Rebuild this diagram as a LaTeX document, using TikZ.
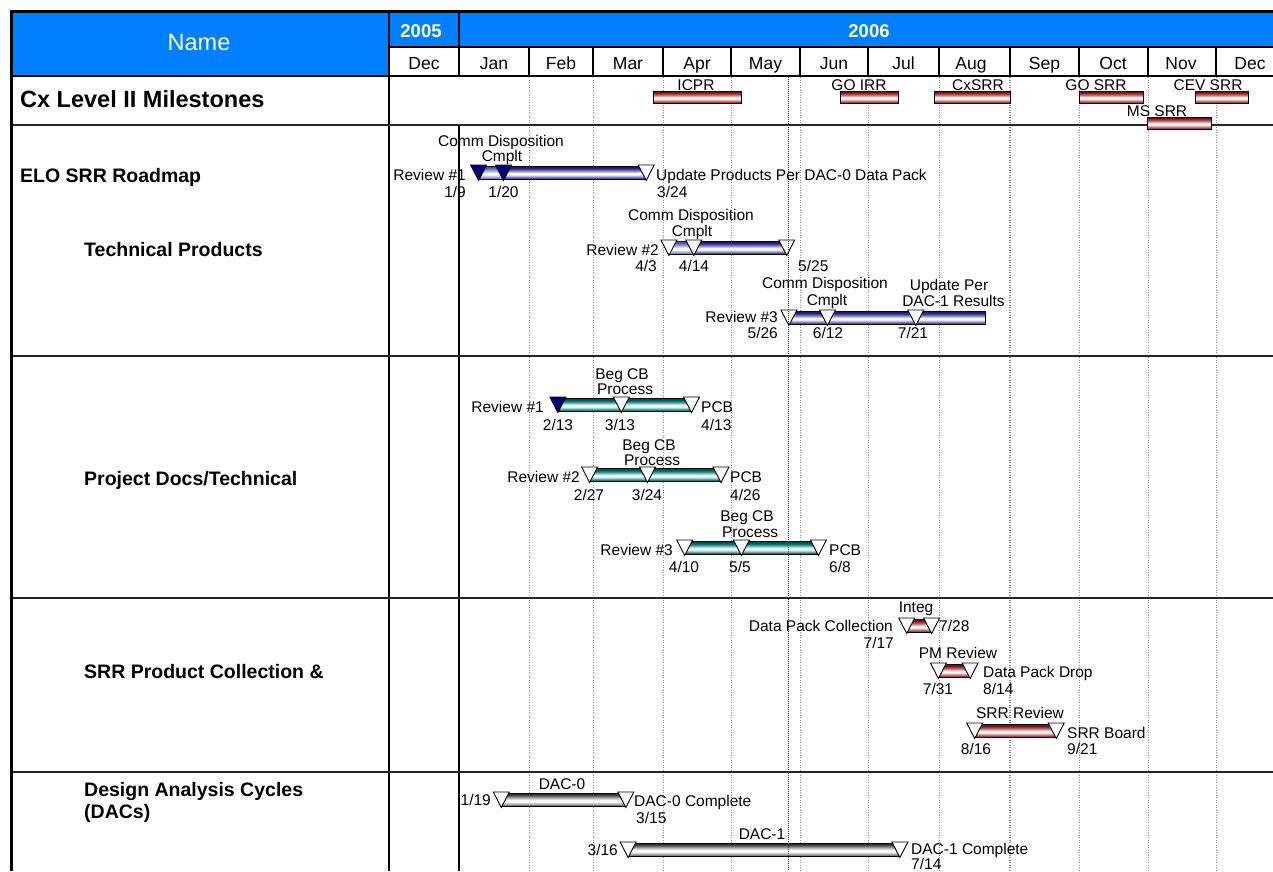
\documentclass[tikz,border=0pt]{standalone}
\usepackage{fontspec}
\setmainfont{Liberation Sans}
\usetikzlibrary{calc}

% palette
\definecolor{hdrblue}{RGB}{0,128,255}
\definecolor{navyfill}{RGB}{0,0,128}
\definecolor{todayblue}{RGB}{40,40,255}
\definecolor{bEdge}{RGB}{25,25,105}
\definecolor{bMid}{RGB}{80,80,170}
\definecolor{bLight}{RGB}{170,170,225}
\definecolor{lbEdge}{RGB}{80,80,165}
\definecolor{lbMid}{RGB}{135,135,205}
\definecolor{lbLight}{RGB}{195,195,238}
\definecolor{tEdge}{RGB}{0,80,80}
\definecolor{tMid}{RGB}{20,130,125}
\definecolor{tLight}{RGB}{135,205,198}
\definecolor{rEdge}{RGB}{105,20,20}
\definecolor{rMid}{RGB}{165,65,65}
\definecolor{rLight}{RGB}{222,150,150}
\definecolor{gEdge}{RGB}{50,50,50}
\definecolor{gMid}{RGB}{128,128,128}
\definecolor{gLight}{RGB}{200,200,200}

% striped "3D" bar shading: dark edges, white band near the middle
\newcommand\barshading[4]{%
  \pgfdeclareverticalshading{#1}{100bp}{color(0bp)=(#2); color(25bp)=(#2);
    color(29bp)=(#3); color(36bp)=(#4); color(43bp)=(white); color(48bp)=(white);
    color(55bp)=(#4); color(63bp)=(#3); color(71bp)=(#2); color(100bp)=(#2)}}
\barshading{bluebar}{bEdge}{bMid}{bLight}
\barshading{lightbluebar}{lbEdge}{lbMid}{lbLight}
\barshading{tealbar}{tEdge}{tMid}{tLight}
\barshading{redbar}{rEdge}{rMid}{rLight}
\barshading{graybar}{gEdge}{gMid}{gLight}

\tikzset{
  lbl/.style={inner sep=0pt, font=\fontsize{15.5}{17}\selectfont},
  namelbl/.style={inner sep=0pt, anchor=base west, font=\fontsize{19.5}{21}\bfseries\selectfont},
  monthlbl/.style={inner sep=0pt, anchor=base, font=\fontsize{17.5}{20}\selectfont},
  yearlbl/.style={inner sep=0pt, anchor=base, text=white, font=\fontsize{18.5}{20}\bfseries\selectfont},
  gridline/.style={draw=black!45, line width=0.9pt, dash pattern=on 1pt off 1.5pt},
  rowline/.style={draw=black!85, line width=1.6pt},
  frameline/.style={draw=black, line width=1.4pt},
  mstone/.style={draw=black, line width=0.9pt, line join=miter},
  taskbar/.style={draw=black, line width=0.8pt},
}

% milestone point, task bar between two milestone points, milestone marker
\newcommand\mspt[3]{\coordinate (#1) at (#2,#3);}
\newcommand\gbar[3]{\shade[taskbar, shading=#3] ($(#1)+(0,1.5)$) rectangle ($(#2)+(0,14)$);}
\newcommand\msmark[2]{\filldraw[mstone, fill=#2] ($(#1)+(-8,0)$) -- ($(#1)+(8,0)$) -- ($(#1)+(0,15.5)$) -- cycle;}

\begin{document}
\begin{tikzpicture}[x=1pt, y=-1pt]
\useasboundingbox (0,0) rectangle (1273,871);
\fill[white] (0,0) rectangle (1273,871);

% ---------- header ----------
\fill[hdrblue] (11.5,11.5) rectangle (389,76);
\fill[hdrblue] (389,11.5) rectangle (1273,47);

% ---------- grid ----------
\foreach \gx in {529,593,663,731,800,868,939,1079,1148,1216}
  \draw[gridline] (\gx,77) -- (\gx,871);
\draw[gridline, line width=1.5pt] (1010,77) -- (1010,871);

% month separators and frame
\foreach \gx in {529,593,663,731,800,868,939,1079,1148,1216}
  \draw[frameline, line width=1.2pt] (\gx,47) -- (\gx,76);
\draw[frameline, line width=2.4pt] (1010,47) -- (1010,76);
\draw[frameline, line width=1.2pt] (389,47) -- (1273,47);
\draw[frameline] (459,11.5) -- (459,76);
\draw[frameline] (459,125) -- (459,871);
\draw[frameline] (389,11.5) -- (389,871);
\draw[frameline, line width=1.6pt] (11.5,76) -- (1273,76);
\foreach \ry in {125,356,598,772}
  \draw[rowline] (11.5,\ry) -- (1273,\ry);
\draw[draw=black, line width=2.5pt] (10,11.5) -- (1273,11.5);
\draw[draw=black, line width=3pt] (11.5,10) -- (11.5,871);

% header texts
\node[inner sep=0pt, anchor=base, text=white, font=\fontsize{23.5}{25}\selectfont] (hdr-name) at (199,50) {Name};
\node[yearlbl] (hdr-2005) at (421,37) {2005};
\node[yearlbl] (hdr-2006) at (869,37) {2006};
\node[monthlbl] (m-dec05) at (424,69) {Dec};
\node[monthlbl] (m-jan) at (494,69) {Jan};
\node[monthlbl] (m-feb) at (561,69) {Feb};
\node[monthlbl] (m-mar) at (628,69) {Mar};
\node[monthlbl] (m-apr) at (697,69) {Apr};
\node[monthlbl] (m-may) at (765.5,69) {May};
\node[monthlbl] (m-jun) at (834,69) {Jun};
\node[monthlbl] (m-jul) at (903.5,69) {Jul};
\node[monthlbl] (m-aug) at (971,69) {Aug};
\node[monthlbl] (m-sep) at (1044.5,69) {Sep};
\node[monthlbl] (m-oct) at (1113,69) {Oct};
\node[monthlbl] (m-nov) at (1181,69) {Nov};
\node[monthlbl] (m-dec06) at (1250,69) {Dec};

% ---------- row titles ----------
\node[inner sep=0pt, anchor=base west, font=\fontsize{23.5}{25}\bfseries\selectfont] (t-cx) at (20,107) {Cx Level II Milestones};
\node[namelbl] (t-elo) at (20,182) {ELO SRR Roadmap};
\node[namelbl] (t-tech) at (84,256) {Technical Products};
\node[namelbl] (t-docs) at (84,485) {Project Docs/Technical};
\node[namelbl] (t-srr) at (84,678) {SRR Product Collection \&};
\node[namelbl] (t-dac1) at (84,796) {Design Analysis Cycles};
\node[namelbl] (t-dac2) at (84,818) {(DACs)};

% ---------- Cx Level II milestones ----------
\shade[taskbar, shading=redbar] (653,91) rectangle (741,103);
\shade[taskbar, shading=redbar] (840,91) rectangle (898,103);
\shade[taskbar, shading=redbar] (934,91) rectangle (1010,103);
\shade[taskbar, shading=redbar] (1079,91) rectangle (1143,103);
\shade[taskbar, shading=redbar] (1195,91) rectangle (1248,103);
\shade[taskbar, shading=redbar] (1147,117) rectangle (1211,129);
\node[lbl, anchor=base] (cx-icpr) at (696,90) {ICPR};
\node[lbl, anchor=base] (cx-goirr) at (859,90) {GO IRR};
\node[lbl, anchor=base] (cx-cxsrr) at (978,90) {CxSRR};
\node[lbl, anchor=base] (cx-gosrr) at (1096,90) {GO SRR};
\node[lbl, anchor=base] (cx-cevsrr) at (1208,90) {CEV SRR};
\node[lbl, anchor=base] (cx-mssrr) at (1157,116) {MS SRR};

% ---------- milestone points ----------
% ELO SRR roadmap
\mspt{e1}{478.6}{165} \mspt{e2}{503.5}{165} \mspt{e3}{646.2}{165}
% technical products
\mspt{t1}{668.9}{240} \mspt{t2}{693.8}{240} \mspt{t3}{786.7}{240}
\mspt{u1}{788.9}{310} \mspt{u2}{827.4}{310} \mspt{u3}{915.8}{310} \mspt{uend}{985}{310}
% project docs
\mspt{p1}{557.9}{397} \mspt{p2}{621.3}{397} \mspt{p3}{691.5}{397}
\mspt{q1}{589.6}{467} \mspt{q2}{647.5}{467} \mspt{q3}{721.0}{467}
\mspt{r1}{684.7}{540} \mspt{r2}{741.4}{540} \mspt{r3}{818.4}{540}
% SRR product collection
\mspt{s1}{906.7}{618} \mspt{s2}{931.6}{618}
\mspt{s3}{938.4}{663} \mspt{s4}{970.1}{663}
\mspt{s5}{974.7}{723} \mspt{s6}{1056.2}{723}
% design analysis cycles
\mspt{d1}{501.3}{792} \mspt{d2}{625.8}{792}
\mspt{d3}{628.1}{842} \mspt{d4}{899.9}{842}

% task bars
\gbar{e1}{e2}{lightbluebar} \gbar{e2}{e3}{bluebar}
\gbar{t1}{t2}{lightbluebar} \gbar{t2}{t3}{bluebar}
\gbar{u1}{u2}{bluebar} \gbar{u2}{u3}{bluebar} \gbar{u3}{uend}{bluebar}
\gbar{p1}{p2}{tealbar} \gbar{p2}{p3}{tealbar}
\gbar{q1}{q2}{tealbar} \gbar{q2}{q3}{tealbar}
\gbar{r1}{r2}{tealbar} \gbar{r2}{r3}{tealbar}
\gbar{s1}{s2}{redbar} \gbar{s3}{s4}{redbar} \gbar{s5}{s6}{redbar}
\gbar{d1}{d2}{graybar} \gbar{d3}{d4}{graybar}

% milestone markers
\msmark{e1}{navyfill} \msmark{e2}{navyfill} \msmark{e3}{white}
\msmark{t1}{white} \msmark{t2}{white} \msmark{t3}{white}
\msmark{u1}{white} \msmark{u2}{white} \msmark{u3}{white}
\msmark{p1}{navyfill} \msmark{p2}{white} \msmark{p3}{white}
\msmark{q1}{white} \msmark{q2}{white} \msmark{q3}{white}
\msmark{r1}{white} \msmark{r2}{white} \msmark{r3}{white}
\msmark{s1}{white} \msmark{s2}{white}
\msmark{s3}{white} \msmark{s4}{white}
\msmark{s5}{white} \msmark{s6}{white}
\msmark{d1}{white} \msmark{d2}{white}
\msmark{d3}{white} \msmark{d4}{white}

% status date line
\draw[todayblue, line width=0.9pt, dash pattern=on 1pt off 1pt] (788.5,77) -- (788.5,871);

% ---------- milestone labels ----------
% ELO SRR roadmap
\node[lbl, anchor=base] (e2-top1) at (501,146) {Comm Disposition};
\node[lbl, anchor=base] (e2-top2) at (502,161.5) {Cmplt};
\node[lbl, anchor=base east] (e1-side) at (466,180) {Review \#1};
\node[lbl, anchor=base east] (e1-date) at (466,197) {1/9};
\node[lbl, anchor=base] (e2-date) at (503.5,197) {1/20};
\node[lbl, anchor=base west] (e3-side) at (656,180) {Update Products Per DAC-0 Data Pack};
\node[lbl, anchor=base west] (e3-date) at (657,197) {3/24};
% technical products, review 2
\node[lbl, anchor=base] (t2-top1) at (691,220) {Comm Disposition};
\node[lbl, anchor=base] (t2-top2) at (692,236.5) {Cmplt};
\node[lbl, anchor=base east] (t1-side) at (659,255) {Review \#2};
\node[lbl, anchor=base east] (t1-date) at (657,271) {4/3};
\node[lbl, anchor=base] (t2-date) at (694,271) {4/14};
\node[lbl, anchor=base west] (t3-date) at (798,271) {5/25};
% technical products, review 3
\node[lbl, anchor=base] (u2-top1) at (825,288) {Comm Disposition};
\node[lbl, anchor=base] (u2-top2) at (827,305) {Cmplt};
\node[lbl, anchor=base] (u3-top1) at (949,290) {Update Per};
\node[lbl, anchor=base] (u3-top2) at (953.5,306.5) {DAC-1 Results};
\node[lbl, anchor=base east] (u1-side) at (778,322) {Review \#3};
\node[lbl, anchor=base east] (u1-date) at (778,338) {5/26};
\node[lbl, anchor=base] (u2-date) at (828,338) {6/12};
\node[lbl, anchor=base] (u3-date) at (913,338) {7/21};
% project docs, review 1
\node[lbl, anchor=base] (p2-top1) at (622,379) {Beg CB};
\node[lbl, anchor=base] (p2-top2) at (625,394) {Process};
\node[lbl, anchor=base east] (p1-side) at (544,412.5) {Review \#1};
\node[lbl, anchor=base west] (p3-side) at (701,412.5) {PCB};
\node[lbl, anchor=base] (p1-date) at (558,430) {2/13};
\node[lbl, anchor=base] (p2-date) at (620,430) {3/13};
\node[lbl, anchor=base west] (p3-date) at (701,430) {4/13};
% project docs, review 2
\node[lbl, anchor=base] (q2-top1) at (649,450) {Beg CB};
\node[lbl, anchor=base] (q2-top2) at (652,465) {Process};
\node[lbl, anchor=base east] (q1-side) at (580,482) {Review \#2};
\node[lbl, anchor=base west] (q3-side) at (730,482) {PCB};
\node[lbl, anchor=base] (q1-date) at (589,500) {2/27};
\node[lbl, anchor=base] (q2-date) at (647,500) {3/24};
\node[lbl, anchor=base west] (q3-date) at (730,500) {4/26};
% project docs, review 3
\node[lbl, anchor=base] (r2-top1) at (747,521) {Beg CB};
\node[lbl, anchor=base] (r2-top2) at (750,537) {Process};
\node[lbl, anchor=base east] (r1-side) at (673,555) {Review \#3};
\node[lbl, anchor=base west] (r3-side) at (829,555) {PCB};
\node[lbl, anchor=base] (r1-date) at (684,572) {4/10};
\node[lbl, anchor=base] (r2-date) at (740,572) {5/5};
\node[lbl, anchor=base west] (r3-date) at (829,572) {6/8};
% SRR product collection
\node[lbl, anchor=base] (s1-top) at (916,612.5) {Integ};
\node[lbl, anchor=base east] (s1-side) at (893,631) {Data Pack Collection};
\node[lbl, anchor=base west] (s2-side) at (939,631) {7/28};
\node[lbl, anchor=base east] (s1-date) at (894,648) {7/17};
\node[lbl, anchor=base] (s3-top) at (958,658) {PM Review};
\node[lbl, anchor=base west] (s4-side) at (983,677) {Data Pack Drop};
\node[lbl, anchor=base] (s3-date) at (938,694) {7/31};
\node[lbl, anchor=base west] (s4-date) at (983,694) {8/14};
\node[lbl, anchor=base] (s5-top) at (1020,718) {SRR Review};
\node[lbl, anchor=base west] (s6-side) at (1067,738) {SRR Board};
\node[lbl, anchor=base] (s5-date) at (976,754) {8/16};
\node[lbl, anchor=base west] (s6-date) at (1067,754) {9/21};
% design analysis cycles
\node[lbl, anchor=base] (d1-top) at (562,789) {DAC-0};
\node[lbl, anchor=base east] (d1-side) at (491,805) {1/19};
\node[lbl, anchor=base west] (d2-side) at (634,806) {DAC-0 Complete};
\node[lbl, anchor=base west] (d2-date) at (636,823) {3/15};
\node[lbl, anchor=base] (d3-top) at (762,839) {DAC-1};
\node[lbl, anchor=base east] (d3-side) at (618,855) {3/16};
\node[lbl, anchor=base west] (d4-side) at (911,854) {DAC-1 Complete};
\node[lbl, anchor=base west] (d4-date) at (911,869.5) {7/14};
\end{tikzpicture}
\end{document}
